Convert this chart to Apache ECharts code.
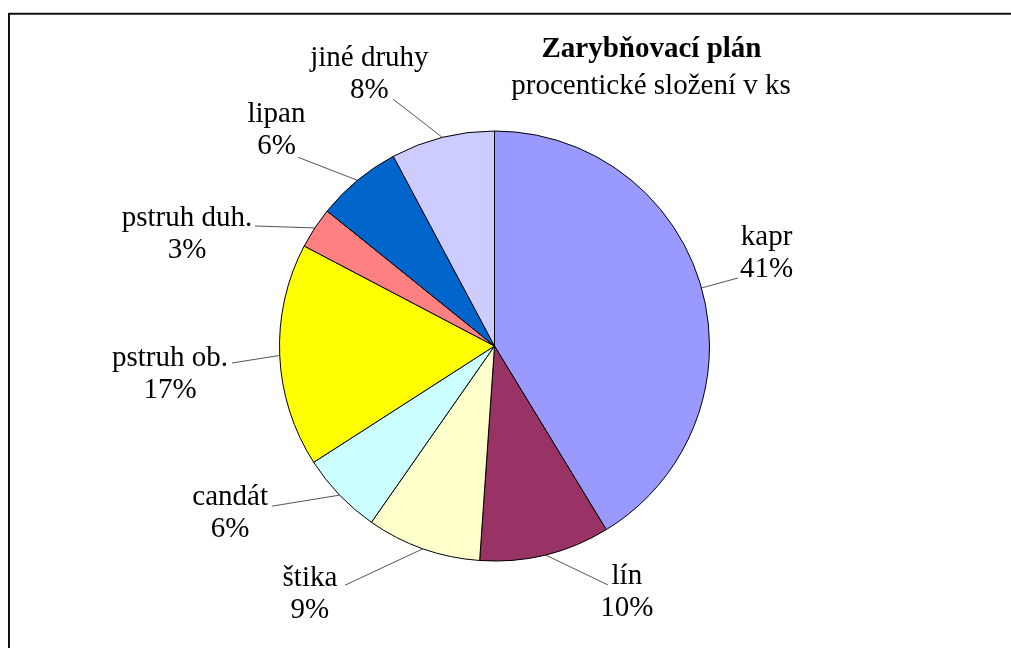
<!DOCTYPE html>
<html>
<head>
<meta charset="utf-8">
<script src="https://cdn.jsdelivr.net/npm/echarts@6/dist/echarts.min.js"></script>
<style>
  html, body { margin: 0; padding: 0; background: #fff; }
  #chart { width: 1011px; height: 648px; }
</style>
</head>
<body>
<div id="chart"></div>
<script>
// ---- data ----
var categories = ['kapr', 'lín', 'štika', 'candát', 'pstruh ob.', 'pstruh duh.', 'lipan', 'jiné druhy'];
var values = [41.3, 9.8, 8.6, 6.2, 16.8, 3.1, 6.4, 7.8];
var titleText = 'Zarybňovací plán';
var subtitleText = 'procentické složení v ks';

// ---- styling (not data) ----
var sliceColors = ['#9999FF', '#993366', '#FFFFCC', '#CCFFFF', '#FFFF00', '#FF8080', '#0066CC', '#CCCCFF'];
// label centre offset from the slice's edge point, and leader-line end relative to label centre
var labelOffsets = [
  [65, -35, -28.5, 25],
  [81.5, 37, -19, -7],
  [-113, 46, 35, -9.5],
  [-109.5, 18.5, 42, -7.5],
  [-109.7, 19, 62, -11.5],
  [-127.8, 6, 68, -8],
  [-81, -50, 21.8, 27],
  [-73, -63, 23.8, 24.8]
];
var FONT = "'Liberation Serif', 'Times New Roman', serif";

var pieData = categories.map(function (c, i) {
  return { name: c, value: values[i], itemStyle: { color: sliceColors[i] } };
});

var chart = echarts.init(document.getElementById('chart'), null, { renderer: 'canvas' });
chart.setOption({
  animation: false,
  backgroundColor: '#ffffff',
  title: [
    {
      text: titleText, left: 651.5, top: 34, textAlign: 'center', padding: 0,
      textStyle: { fontFamily: FONT, fontSize: 29, fontWeight: 'bold', color: '#000', lineHeight: 32 }
    },
    {
      text: subtitleText, left: 651, top: 70, textAlign: 'center', padding: 0,
      textStyle: { fontFamily: FONT, fontSize: 29, fontWeight: 'normal', color: '#000', lineHeight: 32 }
    }
  ],
  graphic: [
    {
      type: 'polyline', silent: true, z: 100,
      shape: { points: [[9, 660], [9, 13.7], [1020, 13.7]] },
      style: { stroke: '#111', lineWidth: 2, fill: null }
    }
  ],
  series: [
    {
      type: 'pie',
      center: [494.5, 346],
      radius: 215,
      startAngle: 90,
      clockwise: true,
      avoidLabelOverlap: false,
      emphasis: { disabled: true },
      itemStyle: { borderColor: '#000', borderWidth: 1 },
      label: {
        show: true,
        position: 'outside',
        fontFamily: FONT,
        fontSize: 29,
        lineHeight: 32,
        color: '#000',
        formatter: function (p) { return p.name + '\n' + Math.round(p.percent) + '%'; }
      },
      labelLine: {
        show: true, length: 10, length2: 10, smooth: false,
        lineStyle: { color: '#555', width: 1 }
      },
      labelLayout: function (p) {
        var off = labelOffsets[p.dataIndex];
        var p0 = p.labelLinePoints && p.labelLinePoints[0];
        if (!p0) return {};
        var cx = p0[0] + off[0], cy = p0[1] + off[1];
        return {
          x: cx, y: cy, align: 'center', verticalAlign: 'middle',
          labelLinePoints: [[p0[0], p0[1]], [cx + off[2], cy + off[3]]]
        };
      },
      data: pieData
    }
  ]
});
</script>
</body>
</html>
